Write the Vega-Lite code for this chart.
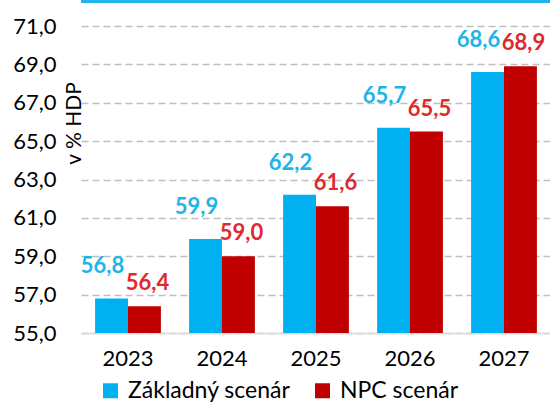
{
  "$schema": "https://vega.github.io/schema/vega-lite/v6.json",
  "width": 470,
  "height": 307,
  "autosize": {"type": "none"},
  "padding": {"left": 81, "top": 26, "right": 0, "bottom": 70},
  "background": "white",
  "config": {
    "locale": {"number": {"decimal": ",", "thousands": " ", "grouping": [3], "currency": ["", " €"]}},
    "font": "Lato",
    "view": {"stroke": null}
  },
  "data": {
    "values": [
      {"year": "2023", "scenario": "Základný scenár", "value": 56.8},
      {"year": "2023", "scenario": "NPC scenár", "value": 56.4},
      {"year": "2024", "scenario": "Základný scenár", "value": 59.9},
      {"year": "2024", "scenario": "NPC scenár", "value": 59.0},
      {"year": "2025", "scenario": "Základný scenár", "value": 62.2},
      {"year": "2025", "scenario": "NPC scenár", "value": 61.6},
      {"year": "2026", "scenario": "Základný scenár", "value": 65.7},
      {"year": "2026", "scenario": "NPC scenár", "value": 65.5},
      {"year": "2027", "scenario": "Základný scenár", "value": 68.6},
      {"year": "2027", "scenario": "NPC scenár", "value": 68.9}
    ]
  },
  "resolve": {"axis": {"y": "independent"}},
  "layer": [
    {
      "encoding": {
        "x": {
          "field": "year", "type": "nominal",
          "scale": {"paddingInner": 0.3, "paddingOuter": 0.15},
          "axis": {
            "title": null, "labelAngle": 0, "ticks": false,
            "labelFontSize": 22, "labelColor": "#000000", "labelPadding": 15,
            "domainColor": "#D9D9D9", "domainWidth": 1.5, "grid": false
          }
        },
        "xOffset": {"field": "scenario", "type": "nominal", "sort": ["Základný scenár", "NPC scenár"], "scale": {"paddingInner": 0, "paddingOuter": 0}},
        "y": {
          "field": "value", "type": "quantitative",
          "scale": {"domain": [55, 71], "nice": false, "zero": false},
          "axis": {
            "title": "v % HDP", "titleFontSize": 21, "titleFontWeight": "normal", "titleColor": "#000000",
            "titleAngle": 270, "titleX": -1, "titleY": 97, "titleAlign": "center", "titleBaseline": "alphabetic",
            "values": [55, 57, 59, 61, 63, 65, 67, 69, 71], "format": ".1f", "labelOverlap": false,
            "labelFontSize": 22, "labelColor": "#000000", "labelPadding": 25,
            "domain": false, "ticks": false,
            "grid": true, "gridColor": "#BFBFBF", "gridDash": [7, 4], "gridWidth": 1.3
          }
        }
      },
      "layer": [
        {
          "mark": {"type": "bar"},
          "encoding": {
            "y2": {"datum": 55},
            "color": {
              "field": "scenario", "type": "nominal",
              "scale": {"domain": ["Základný scenár", "NPC scenár"], "range": ["#00B0F0", "#C00000"]},
              "legend": {
                "title": null, "orient": "none", "direction": "horizontal",
                "legendX": 18, "legendY": 353,
                "symbolType": "square", "symbolSize": 225, "symbolStrokeWidth": 0, "symbolOpacity": 1,
                "labelFontSize": 23, "labelLimit": 400, "labelColor": "#000000", "labelOffset": 6, "columnPadding": 20
              }
            }
          }
        },
        {
          "transform": [{"filter": "datum.scenario === 'Základný scenár'"}],
          "mark": {"type": "text", "fontSize": 22, "fontWeight": "bold", "color": "#1EB4E8", "baseline": "alphabetic", "align": "center", "dx": -9, "dy": -25},
          "encoding": {"text": {"field": "value", "type": "quantitative", "format": ".1f"}}
        },
        {
          "transform": [{"filter": "datum.scenario === 'NPC scenár'"}],
          "mark": {"type": "text", "fontSize": 22, "fontWeight": "bold", "color": "#E0282D", "baseline": "alphabetic", "align": "center", "dx": 3, "dy": -16},
          "encoding": {"text": {"field": "value", "type": "quantitative", "format": ".1f"}}
        }
      ]
    },
    {
      "mark": {"type": "rule", "color": "#1FB4EA", "strokeWidth": 3},
      "encoding": {"y": {"datum": 72.28, "axis": null}}
    }
  ]
}
